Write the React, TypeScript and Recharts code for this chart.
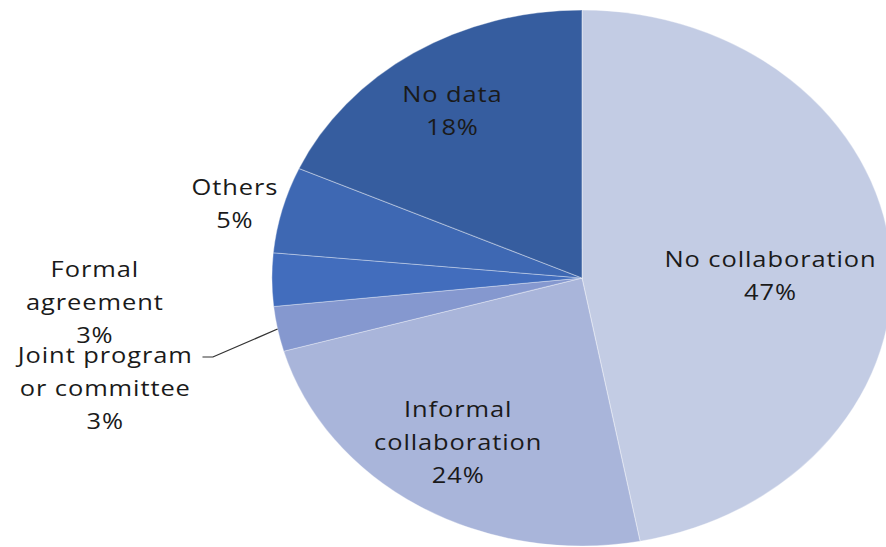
import { PieChart, Pie, Cell } from 'recharts';

// slice order runs clockwise from 12 o'clock
const categories = [
  'No collaboration',
  'Informal\ncollaboration',
  'Joint program\nor committee',
  'Formal\nagreement',
  'Others',
  'No data',
];
const shares = [47.0, 23.6, 2.7, 3.2, 5.2, 18.3];
const colors = ['#c3cce4', '#a9b5da', '#8598cf', '#426dbd', '#3e68b3', '#365d9f'];

const data = categories.map((name, i) => ({ name, value: shares[i] }));

// the original image is stretched sideways; draw a circle and stretch it back
const STRETCH = 1.157;
const W = 766;
const H = 547;

// label block centres, relative to the pie centre (unstretched px)
const labelOffsets: [number, number][] = [
  [163, -3],
  [-107, 164],
  [-412, 110],
  [-421, 24],
  [-300, -75],
  [-112, -168],
];

const LINE_H = 33;
const RADIAN = Math.PI / 180;

function renderLabel(props: any) {
  const { cx, cy, midAngle, outerRadius, percent, index } = props;
  const lines = [...categories[index].split('\n'), `${Math.round(percent * 100)}%`];
  const [dx, dy] = labelOffsets[index];
  const x = cx + dx;
  const top = cy + dy - ((lines.length - 1) * LINE_H) / 2;

  let leader = null;
  if (index === 2) {
    // leader line for the thin "Joint program" slice
    const ex = cx + outerRadius * Math.cos(-midAngle * RADIAN);
    const ey = cy + outerRadius * Math.sin(-midAngle * RADIAN);
    const ly = top + 2;
    leader = (
      <polyline
        points={`${x + 84},${ly} ${x + 93},${ly} ${ex},${ey}`}
        fill="none"
        stroke="#333"
        strokeWidth={1.2}
      />
    );
  }

  return (
    <g key={`lbl-${index}`}>
      {leader}
      <text
        x={x}
        y={top}
        textAnchor="middle"
        dominantBaseline="central"
        fill="#1a1a1a"
        fontSize={22}
        letterSpacing={0.8}
        fontFamily="'Open Sans', sans-serif"
      >
        {lines.map((l, i) => (
          <tspan key={i} x={x} dy={i === 0 ? 0 : LINE_H}>
            {l}
          </tspan>
        ))}
      </text>
    </g>
  );
}

export default function App() {
  return (
    <div
      style={{
        position: 'absolute',
        left: 0,
        top: 0,
        width: W,
        height: H,
        transform: `scaleX(${STRETCH})`,
        transformOrigin: '0 0',
        background: '#fff',
      }}
    >
      <PieChart width={W} height={H} margin={{ top: 0, right: 0, bottom: 0, left: 0 }}>
        <Pie
          data={data}
          dataKey="value"
          nameKey="name"
          cx={503}
          cy={278}
          outerRadius={268}
          startAngle={90}
          endAngle={-270}
          stroke="rgba(255,255,255,0.35)"
          strokeWidth={1}
          label={renderLabel}
          labelLine={false}
          isAnimationActive={false}
        >
          {data.map((d, i) => (
            <Cell key={d.name} fill={colors[i]} />
          ))}
        </Pie>
      </PieChart>
    </div>
  );
}
